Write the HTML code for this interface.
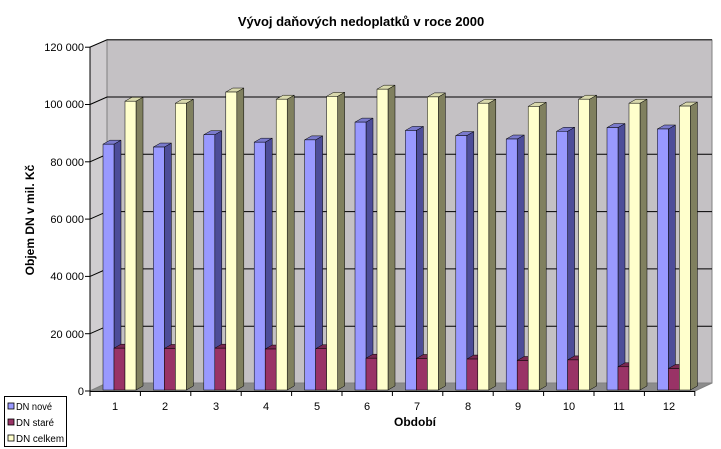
<!DOCTYPE html>
<html><head><meta charset="utf-8"><style>
body{margin:0;background:#fff}
svg{display:block;font-family:"Liberation Sans",Arial,sans-serif}
</style></head><body>
<svg id="s" width="721" height="449" viewBox="0 0 721 449">
<polygon points="107,40 712,40 712,383 107,383" fill="#c4c1c4" stroke="#808080" stroke-width="1"/>
<polygon points="90,47 107,40 107,383 90,391" fill="#d0cdd0" stroke="#808080" stroke-width="1"/>
<polygon points="90,391 107,383 712,383 695,391" fill="#8c8c8c" stroke="#808080" stroke-width="1"/>
<g id="grid" stroke="#000" stroke-width="1" fill="none"></g>
<g id="bars"></g>
<line x1="90" y1="47" x2="90" y2="391" stroke="#000"/>
<line x1="90" y1="391.5" x2="695" y2="391.5" stroke="#000"/>
<g id="ticks" stroke="#000"></g>
<g font-size="11" text-anchor="end" fill="#000">
<text x="84" y="395">0</text>
<text x="84" y="338">20 000</text>
<text x="84" y="280">40 000</text>
<text x="84" y="223">60 000</text>
<text x="84" y="166">80 000</text>
<text x="84" y="108">100 000</text>
<text x="84" y="51">120 000</text>
</g>
<g font-size="11" text-anchor="middle" fill="#000">
<text x="115" y="410">1</text><text x="165" y="410">2</text><text x="216" y="410">3</text>
<text x="266" y="410">4</text><text x="317" y="410">5</text><text x="367" y="410">6</text>
<text x="417" y="410">7</text><text x="468" y="410">8</text><text x="518" y="410">9</text>
<text x="569" y="410">10</text><text x="619" y="410">11</text><text x="669" y="410">12</text>
</g>
<text x="361" y="26" font-size="13" font-weight="bold" text-anchor="middle">Vývoj daňových nedoplatků v roce 2000</text>
<text x="415" y="426" font-size="12" font-weight="bold" text-anchor="middle">Období</text>
<text transform="translate(34,220) rotate(-90)" font-size="12" font-weight="bold" text-anchor="middle">Objem DN v mil. Kč</text>
<rect x="4.5" y="396.5" width="62" height="50" fill="#fff" stroke="#000"/>
<rect x="8" y="403" width="6" height="6" fill="#9999ff" stroke="#000" stroke-width="0.8"/>
<rect x="8" y="419" width="6" height="6" fill="#993366" stroke="#000" stroke-width="0.8"/>
<rect x="8" y="435" width="6" height="6" fill="#ffffcc" stroke="#000" stroke-width="0.8"/>
<g font-size="10" fill="#000">
<text x="16" y="410" textLength="36" lengthAdjust="spacingAndGlyphs">DN nové</text>
<text x="16" y="426" textLength="38" lengthAdjust="spacingAndGlyphs">DN staré</text>
<text x="16" y="442" textLength="48" lengthAdjust="spacingAndGlyphs">DN celkem</text>
</g>
</svg>
<script>
var ns="http://www.w3.org/2000/svg";
function el(p,t,a){var e=document.createElementNS(ns,t);for(var k in a)e.setAttribute(k,a[k]);p.appendChild(e);return e;}
var g=document.getElementById('grid'),b=document.getElementById('bars'),tk=document.getElementById('ticks');
function Y(v){return 391-v*57.3/20000;}
for(var i=1;i<=6;i++){var y=Y(i*20000);
 el(g,'polyline',{points:'90,'+y+' 107,'+(y-7.5)+' 712,'+(y-7.5)});}
for(var i=0;i<=6;i++){var y=Y(i*20000);el(tk,'line',{x1:85,x2:90,y1:y,y2:y});}
for(var i=0;i<=12;i++){var x=90+i*50.4;el(tk,'line',{x1:x,x2:x,y1:391,y2:396});}
var A=[86500,85500,89800,87200,88000,94200,91300,89500,88300,91000,92300,91800];
var B=[15300,15200,15300,15000,15100,11800,11700,11500,11000,11200,8800,8200];
var C=[101500,100800,104700,102200,103200,105700,103000,100800,99700,102200,100800,99800];
var cols=[["#9999ff","#4d4d99","#7a7acc"],["#993366","#5c1f3d","#7a2952"],["#ffffcc","#80805f","#d9d9ad"]];
var dx=7,dy=4,w=11,base=390;
function bar(x,v,c){var t=391-v*57.3/20000+1;
 el(b,'polygon',{points:(x+w)+','+t+' '+(x+w+dx)+','+(t-dy)+' '+(x+w+dx)+','+(base-dy)+' '+(x+w)+','+base,fill:c[1],stroke:'#000','stroke-width':0.5});
 el(b,'polygon',{points:x+','+t+' '+(x+dx)+','+(t-dy)+' '+(x+w+dx)+','+(t-dy)+' '+(x+w)+','+t,fill:c[2],stroke:'#000','stroke-width':0.5});
 el(b,'rect',{x:x,y:t,width:w,height:base-t,fill:c[0],stroke:'#000','stroke-width':0.5});}
for(var i=0;i<12;i++){var c=90+i*50.4;
 bar(c+13,A[i],cols[0]);bar(c+24,B[i],cols[1]);bar(c+35,C[i],cols[2]);}
</script>
</body></html>
